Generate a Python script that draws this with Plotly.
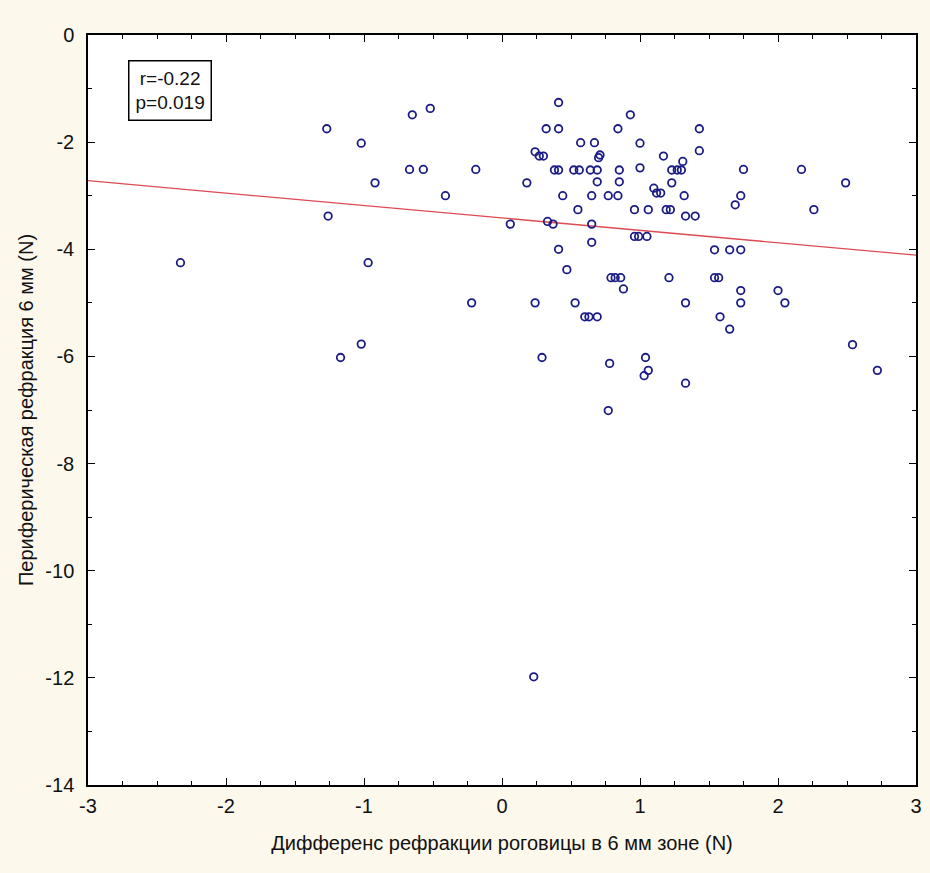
import plotly.graph_objects as go

# Scatter data
x_vals = [
    -2.33, -1.27, -1.26, -1.17, -1.02, -1.02, -0.97, -0.92, -0.65, -0.67,
    -0.57, -0.52, -0.41, -0.19, -0.22, 0.06, 0.18, 0.24, 0.27, 0.30,
    0.32, 0.41, 0.41, 0.38, 0.41, 0.52, 0.56, 0.64, 0.69, 0.57,
    0.67, 0.71, 0.70, 0.69, 0.85, 0.85, 0.44, 0.65, 0.77, 0.84,
    0.84, 0.55, 0.33, 0.37, 0.65, 0.41, 0.65, 0.47, 0.24, 0.53,
    0.60, 0.63, 0.69, 0.79, 0.82, 0.86, 0.88, 0.29, 0.78, 1.04,
    1.06, 1.03, 1.33, 0.77, 0.23, 0.93, 1.00, 1.00, 1.17, 1.43,
    1.43, 1.23, 1.27, 1.30, 1.31, 1.23, 1.10, 1.12, 1.15, 1.32,
    0.96, 1.06, 1.19, 1.22, 1.33, 1.40, 1.75, 1.73, 1.69, 2.17,
    2.49, 2.26, 0.96, 0.99, 1.05, 1.54, 1.65, 1.73, 1.21, 1.54,
    1.57, 1.73, 1.73, 2.00, 2.05, 1.33, 1.58, 1.65, 2.54, 2.72,
]
y_vals = [
    -4.25, -1.75, -3.38, -6.02, -2.02, -5.77, -4.25, -2.76, -1.49, -2.51,
    -2.51, -1.37, -3.00, -2.51, -5.00, -3.53, -2.76, -2.18, -2.26, -2.26,
    -1.75, -1.75, -1.26, -2.52, -2.52, -2.52, -2.52, -2.52, -2.52, -2.01,
    -2.01, -2.24, -2.29, -2.74, -2.74, -2.52, -3.00, -3.00, -3.00, -3.00,
    -1.75, -3.26, -3.48, -3.53, -3.53, -4.00, -3.87, -4.38, -5.00, -5.00,
    -5.26, -5.26, -5.26, -4.53, -4.53, -4.53, -4.74, -6.02, -6.13, -6.02,
    -6.26, -6.36, -6.50, -7.01, -11.98, -1.49, -2.02, -2.48, -2.26, -1.75,
    -2.16, -2.52, -2.52, -2.52, -2.36, -2.76, -2.86, -2.95, -2.95, -3.00,
    -3.26, -3.26, -3.26, -3.26, -3.38, -3.38, -2.51, -3.00, -3.17, -2.51,
    -2.76, -3.26, -3.76, -3.76, -3.76, -4.01, -4.01, -4.01, -4.53, -4.53,
    -4.53, -4.77, -5.00, -4.77, -5.00, -5.00, -5.26, -5.49, -5.78, -6.26,
]

# Regression line end points
line_x = [-3, 3]
line_y = [-2.72, -4.11]

x_ticks = [-3, -2, -1, 0, 1, 2, 3]
y_ticks = [0, -2, -4, -6, -8, -10, -12, -14]

x_title = "Дифференс рефракции роговицы в 6 мм зоне (N)"
y_title = "Периферическая рефракция 6 мм (N)"
stats_text = "r=-0.22<br>p=0.019"

FONT = "Liberation Sans, Arial, sans-serif"

fig = go.Figure()
fig.add_trace(go.Scatter(
    x=line_x, y=line_y, mode="lines",
    line=dict(color="#dd4a52", width=1.3),
    hoverinfo="skip", showlegend=False,
))
fig.add_trace(go.Scatter(
    x=x_vals, y=y_vals, mode="markers",
    marker=dict(symbol="circle-open", size=7.5, color="#1c1c86",
                line=dict(width=1.8, color="#1c1c86")),
    showlegend=False,
))

axis_common = dict(
    showgrid=False, zeroline=False, showline=True, linecolor="black",
    linewidth=1.5, mirror="allticks", ticks="inside", ticklen=7,
    tickcolor="black", tickwidth=1,
    tickfont=dict(family=FONT, size=20, color="#111"),
)

fig.update_xaxes(
    range=[-3, 3], tickvals=x_ticks, ticktext=[str(v) for v in x_ticks],
    minor=dict(dtick=0.25, ticks="inside", ticklen=4, tickcolor="black"),
    title=dict(text=x_title, font=dict(family=FONT, size=20, color="#111"),
               standoff=20),
    ticklabelstandoff=2,
    **axis_common,
)
fig.update_yaxes(
    range=[-14, 0], tickvals=y_ticks, ticktext=[str(v) for v in y_ticks],
    minor=dict(dtick=1, ticks="inside", ticklen=4, tickcolor="black"),
    title=dict(text=y_title, font=dict(family=FONT, size=20, color="#111"),
               standoff=6),
    ticklabelstandoff=8,
    **axis_common,
)

fig.add_annotation(
    xref="paper", yref="paper", x=0.048, y=0.967,
    xanchor="left", yanchor="top", text=stats_text, showarrow=False,
    align="center", font=dict(family=FONT, size=19, color="#111"),
    bordercolor="black", borderwidth=1.5, borderpad=6, bgcolor="white",
)

fig.update_layout(
    width=930, height=873,
    margin=dict(l=88, r=8, t=35, b=88),
    paper_bgcolor="#fdf8ec", plot_bgcolor="white",
    font=dict(family=FONT),
)

fig.write_html("out.html", config={"displayModeBar": False},
               post_script="document.body.style.margin='0';")
